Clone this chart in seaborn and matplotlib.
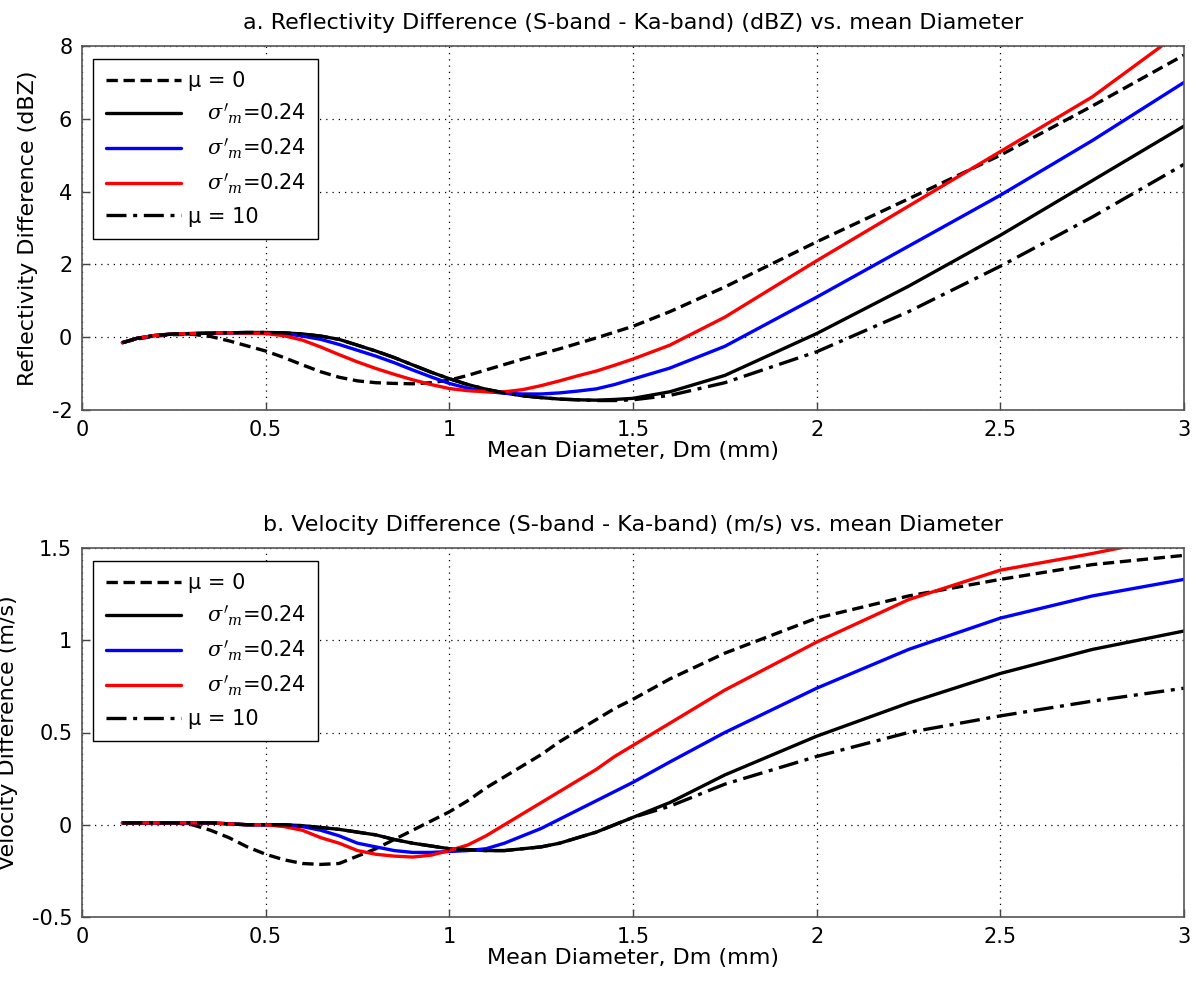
import numpy as np
import pandas as pd
import matplotlib
matplotlib.use("Agg")
import matplotlib.pyplot as plt
import seaborn as sns

# ---------------- data ----------------
dm = [0.11, 0.15, 0.2, 0.25, 0.3, 0.35, 0.4, 0.45, 0.5, 0.55, 0.6, 0.65, 0.7, 0.75,
      0.8, 0.85, 0.9, 0.95, 1.0, 1.05, 1.1, 1.15, 1.2, 1.25, 1.3, 1.35, 1.4, 1.45,
      1.5, 1.6, 1.75, 2.0, 2.25, 2.5, 2.75, 3.0]

# panel a: reflectivity difference (dBZ)
refl_mu0 = [-0.15, -0.05, 0.03, 0.07, 0.08, 0.02, -0.1, -0.24, -0.38, -0.56, -0.76,
            -0.95, -1.1, -1.2, -1.25, -1.27, -1.28, -1.25, -1.18, -1.05, -0.9, -0.75,
            -0.6, -0.46, -0.32, -0.17, -0.02, 0.14, 0.3, 0.7, 1.38, 2.62, 3.8, 5.0,
            6.35, 7.75]
refl_black = [-0.15, -0.03, 0.05, 0.09, 0.1, 0.11, 0.12, 0.13, 0.13, 0.12, 0.09, 0.03,
              -0.06, -0.22, -0.38, -0.56, -0.76, -0.96, -1.14, -1.3, -1.43, -1.53,
              -1.61, -1.66, -1.7, -1.72, -1.73, -1.71, -1.68, -1.5, -1.05, 0.1, 1.4,
              2.8, 4.3, 5.8]
refl_blue = [-0.15, -0.03, 0.05, 0.09, 0.1, 0.11, 0.12, 0.12, 0.12, 0.1, 0.03, -0.06,
             -0.2, -0.36, -0.52, -0.7, -0.9, -1.09, -1.27, -1.4, -1.49, -1.54, -1.56,
             -1.56, -1.53, -1.48, -1.42, -1.3, -1.15, -0.85, -0.25, 1.1, 2.5, 3.9,
             5.4, 7.0]
refl_red = [-0.15, -0.03, 0.05, 0.09, 0.1, 0.11, 0.12, 0.11, 0.1, 0.04, -0.08, -0.27,
            -0.48, -0.68, -0.86, -1.02, -1.17, -1.3, -1.41, -1.47, -1.5, -1.5, -1.44,
            -1.33, -1.2, -1.06, -0.93, -0.77, -0.6, -0.22, 0.55, 2.1, 3.6, 5.1, 6.6,
            8.45]
refl_mu10 = [-0.15, -0.03, 0.05, 0.09, 0.1, 0.11, 0.12, 0.13, 0.13, 0.12, 0.09, 0.03,
             -0.06, -0.22, -0.38, -0.56, -0.76, -0.96, -1.14, -1.3, -1.43, -1.53,
             -1.61, -1.66, -1.7, -1.72, -1.74, -1.74, -1.72, -1.6, -1.25, -0.4, 0.7,
             1.95, 3.3, 4.75]

# panel b: velocity difference (m/s)
vel_mu0 = [0.01, 0.01, 0.01, 0.01, 0.0, -0.03, -0.07, -0.12, -0.16, -0.19, -0.21,
           -0.215, -0.21, -0.17, -0.13, -0.08, -0.03, 0.02, 0.07, 0.13, 0.2, 0.26,
           0.32, 0.38, 0.45, 0.51, 0.57, 0.63, 0.68, 0.79, 0.93, 1.12, 1.24, 1.33,
           1.41, 1.46]
vel_black = [0.01, 0.01, 0.01, 0.01, 0.01, 0.01, 0.005, 0.0, 0.0, 0.0, -0.005, -0.015,
             -0.025, -0.04, -0.055, -0.08, -0.1, -0.115, -0.13, -0.135, -0.14, -0.14,
             -0.13, -0.12, -0.1, -0.07, -0.04, 0.0, 0.04, 0.12, 0.27, 0.48, 0.66,
             0.82, 0.95, 1.05]
vel_blue = [0.01, 0.01, 0.01, 0.01, 0.01, 0.01, 0.005, 0.0, 0.0, -0.005, -0.01, -0.03,
            -0.06, -0.1, -0.12, -0.14, -0.15, -0.15, -0.145, -0.14, -0.13, -0.1,
            -0.06, -0.02, 0.03, 0.08, 0.13, 0.18, 0.23, 0.34, 0.5, 0.74, 0.95, 1.12,
            1.24, 1.33]
vel_red = [0.01, 0.01, 0.01, 0.01, 0.01, 0.01, 0.005, 0.0, 0.0, -0.01, -0.03, -0.07,
           -0.1, -0.14, -0.16, -0.17, -0.175, -0.165, -0.14, -0.11, -0.06, 0.0, 0.06,
           0.12, 0.18, 0.24, 0.3, 0.37, 0.43, 0.55, 0.73, 0.99, 1.22, 1.38, 1.47,
           1.57]
vel_mu10 = [0.01, 0.01, 0.01, 0.01, 0.01, 0.01, 0.005, 0.0, 0.0, 0.0, -0.005, -0.015,
            -0.025, -0.04, -0.055, -0.08, -0.1, -0.115, -0.13, -0.135, -0.14, -0.14,
            -0.13, -0.12, -0.1, -0.07, -0.04, 0.0, 0.04, 0.1, 0.22, 0.37, 0.5, 0.59,
            0.67, 0.74]

labels = ["\u03bc = 0", "   $\\sigma'_m$=0.24", "   $\\sigma'_m$=0.24",
          "   $\\sigma'_m$=0.24", "\u03bc = 10"]
colors = ["black", "black", "#0000ff", "#ff0000", "black"]
styles = [(0, (3.4, 1.7)), "-", "-", "-", (0, (6, 2, 1.2, 2))]

titles = ["a. Reflectivity Difference (S-band - Ka-band) (dBZ) vs. mean Diameter",
          "b. Velocity Difference (S-band - Ka-band) (m/s) vs. mean Diameter"]
ylabels = ["Reflectivity Difference (dBZ)", "Velocity Difference (m/s)"]
xlabel = "Mean Diameter, Dm (mm)"
xticks = [0, 0.5, 1, 1.5, 2, 2.5, 3]
xticklabels = ["0", "0.5", "1", "1.5", "2", "2.5", "3"]
yticks_a = [-2, 0, 2, 4, 6, 8]
yticklabels_a = ["-2", "0", "2", "4", "6", "8"]
yticks_b = [-0.5, 0, 0.5, 1, 1.5]
yticklabels_b = ["-0.5", "0", "0.5", "1", "1.5"]

# ---------------- style ----------------
sns.set_style("ticks")
plt.rcParams["font.family"] = ["DejaVu Sans"]
plt.rcParams["mathtext.fontset"] = "dejavuserif"
plt.rcParams["axes.unicode_minus"] = False
plt.rcParams["text.color"] = "black"
plt.rcParams["axes.labelcolor"] = "black"

fig = plt.figure(figsize=(11.96, 9.84), dpi=100)
ax_a = fig.add_axes([82 / 1196, 1 - 410 / 984, 1102 / 1196, 364 / 984])
ax_b = fig.add_axes([82 / 1196, 1 - 917 / 984, 1102 / 1196, 369 / 984])

panels = [
    (ax_a, [refl_mu0, refl_black, refl_blue, refl_red, refl_mu10], (-2, 8),
     yticks_a, yticklabels_a, -0.040),
    (ax_b, [vel_mu0, vel_black, vel_blue, vel_red, vel_mu10], (-0.5, 1.5),
     yticks_b, yticklabels_b, -0.058),
]

for i, (ax, series, ylim, yt, ytl, ylx) in enumerate(panels):
    for vals, lab, col, ls in zip(series, labels, colors, styles):
        sns.lineplot(x=dm, y=vals, ax=ax, color=col, linestyle=ls, linewidth=2.4,
                     label=lab, sort=False, errorbar=None)
    ax.set_xlim(0, 3)
    ax.set_ylim(*ylim)
    ax.set_xticks(xticks)
    ax.set_xticklabels(xticklabels)
    ax.set_yticks(yt)
    ax.set_yticklabels(ytl)
    ax.grid(True, color="black", linestyle=(0, (1, 4)), linewidth=0.9)
    ax.tick_params(direction="in", length=6, width=1, labelsize=15, colors="#444444",
                   labelcolor="black", pad=7)
    for sp in ax.spines.values():
        sp.set_visible(True)
        sp.set_color("#555555")
        sp.set_linewidth(1.2)
    ax.set_title(titles[i], fontsize=16, pad=12, color="black")
    ax.set_xlabel(xlabel, fontsize=16, labelpad=1, color="black")
    ax.set_ylabel(ylabels[i], fontsize=16, color="black")
    ax.yaxis.set_label_coords(ylx, 0.5)
    leg = ax.legend(loc="upper left", bbox_to_anchor=(0.01, 0.965), borderaxespad=0,
                    frameon=True, fancybox=False, edgecolor="black", framealpha=1,
                    fontsize=15, handlelength=3.6, handletextpad=0.35,
                    labelspacing=0.5, borderpad=0.6)
    for t in leg.get_texts():
        t.set_color("black")
    leg.get_frame().set_linewidth(1.0)

fig.savefig("out.png", dpi=100)
